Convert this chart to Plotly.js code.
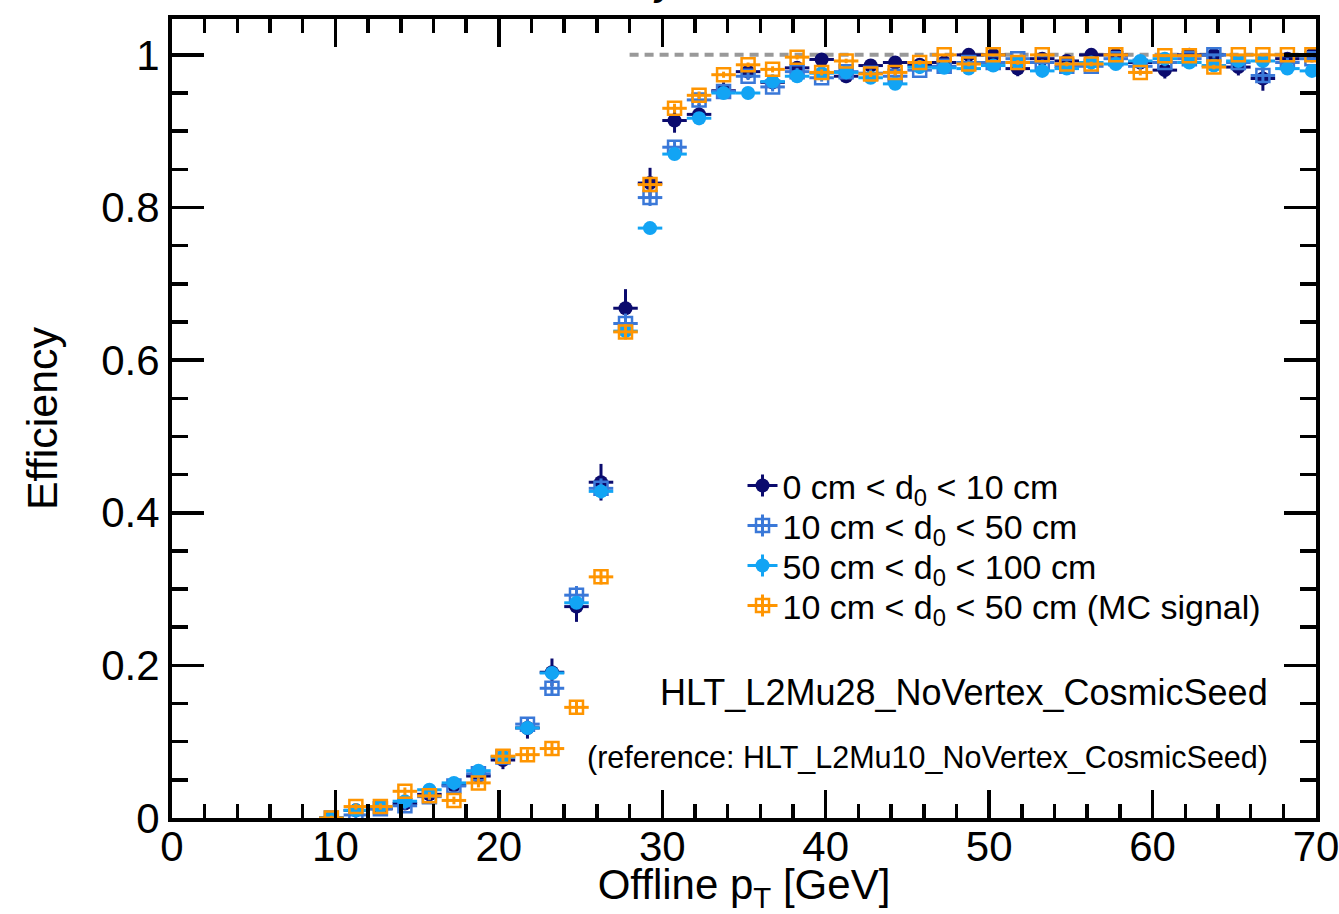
<!DOCTYPE html>
<html>
<head>
<meta charset="utf-8">
<script src="https://cdn.plot.ly/plotly-3.0.1.min.js"></script>
<style>
  html, body { margin: 0; padding: 0; background: #ffffff; }
  #plot { width: 1339px; height: 914px; }
</style>
</head>
<body>
<div id="plot"></div>
<script>
// Offline muon pT bin centres [GeV] (bin width 1.5 GeV)
const ptCenters = [9.75, 11.25, 12.75, 14.25, 15.75, 17.25, 18.75, 20.25, 21.75, 23.25,
  24.75, 26.25, 27.75, 29.25, 30.75, 32.25, 33.75, 35.25, 36.75, 38.25,
  39.75, 41.25, 42.75, 44.25, 45.75, 47.25, 48.75, 50.25, 51.75, 53.25,
  54.75, 56.25, 57.75, 59.25, 60.75, 62.25, 63.75, 65.25, 66.75, 68.25, 69.75];
const binHalfWidth = 0.75;

// Efficiency, 0 cm < d0 < 10 cm
const effD0_0_10 = [0.000, 0.010, 0.012, 0.019, 0.031, 0.043, 0.055, 0.076, 0.118, 0.191,
  0.277, 0.440, 0.668, 0.832, 0.914, 0.922, 0.953, 0.978, 0.964, 0.983,
  0.994, 0.972, 0.986, 0.990, 0.987, 0.990, 1.000, 1.000, 0.982, 0.995,
  0.992, 1.000, 1.000, 0.990, 0.980, 1.000, 1.000, 0.984, 0.969, 0.995, 1.000];
const errD0_0_10 = [0.004, 0.006, 0.006, 0.007, 0.008, 0.009, 0.010, 0.012, 0.014, 0.018,
  0.020, 0.024, 0.025, 0.020, 0.016, 0.014, 0.011, 0.009, 0.010, 0.008,
  0.007, 0.009, 0.008, 0.008, 0.008, 0.008, 0.006, 0.006, 0.010, 0.007,
  0.008, 0.006, 0.006, 0.009, 0.011, 0.007, 0.007, 0.011, 0.016, 0.008, 0.007];

// Efficiency, 10 cm < d0 < 50 cm
const effD0_10_50 = [0.000, 0.004, 0.012, 0.016, 0.028, 0.042, 0.058, 0.080, 0.123, 0.170,
  0.292, 0.432, 0.648, 0.813, 0.879, 0.941, 0.952, 0.972, 0.958, 0.978,
  0.970, 0.978, 0.976, 0.972, 0.980, 0.985, 0.990, 0.990, 0.995, 0.990,
  0.985, 0.985, 0.995, 0.985, 0.990, 0.995, 1.000, 0.990, 0.973, 0.990, 0.995];
const errD0_10_50 = [0.003, 0.004, 0.004, 0.005, 0.005, 0.006, 0.007, 0.008, 0.009, 0.010,
  0.012, 0.013, 0.013, 0.011, 0.009, 0.007, 0.006, 0.005, 0.006, 0.005,
  0.005, 0.005, 0.005, 0.005, 0.005, 0.005, 0.004, 0.004, 0.004, 0.004,
  0.005, 0.005, 0.004, 0.005, 0.005, 0.004, 0.004, 0.006, 0.009, 0.006, 0.005];

// Efficiency, 50 cm < d0 < 100 cm
const effD0_50_100 = [0.000, 0.010, 0.015, 0.022, 0.037, 0.046, 0.062, 0.080, 0.118, 0.190,
  0.282, 0.428, 0.638, 0.773, 0.870, 0.917, 0.950, 0.950, 0.965, 0.972,
  0.976, 0.977, 0.970, 0.962, 0.984, 0.983, 0.982, 0.986, 0.990, 0.979,
  0.982, 0.990, 0.988, 0.992, 0.995, 0.990, 0.986, 0.992, 0.992, 0.982, 0.979];
const errD0_50_100 = [0.002, 0.003, 0.003, 0.003, 0.004, 0.004, 0.005, 0.005, 0.006, 0.007,
  0.008, 0.009, 0.009, 0.008, 0.006, 0.005, 0.004, 0.004, 0.004, 0.004,
  0.004, 0.004, 0.004, 0.004, 0.003, 0.003, 0.003, 0.003, 0.003, 0.004,
  0.004, 0.003, 0.003, 0.003, 0.003, 0.003, 0.004, 0.003, 0.003, 0.004, 0.004];

// Efficiency, 10 cm < d0 < 50 cm, MC signal
const effMcSignal = [0.000, 0.015, 0.015, 0.035, 0.029, 0.023, 0.046, 0.081, 0.083, 0.091,
  0.145, 0.316, 0.637, 0.830, 0.930, 0.947, 0.974, 0.987, 0.981, 0.997,
  0.977, 0.992, 0.975, 0.977, 0.990, 1.000, 0.988, 1.000, 0.990, 1.000,
  0.988, 0.988, 1.000, 0.977, 0.999, 0.999, 0.984, 1.000, 1.000, 1.000, 1.000];
const errMcSignal = [0.003, 0.004, 0.004, 0.005, 0.005, 0.005, 0.006, 0.007, 0.007, 0.008,
  0.009, 0.010, 0.010, 0.008, 0.006, 0.005, 0.004, 0.003, 0.004, 0.003,
  0.004, 0.003, 0.004, 0.004, 0.003, 0.002, 0.003, 0.002, 0.003, 0.002,
  0.003, 0.003, 0.002, 0.004, 0.002, 0.002, 0.003, 0.002, 0.002, 0.002, 0.002];

const seriesNames = [
  '0 cm &lt; d<sub>0</sub> &lt; 10 cm',
  '10 cm &lt; d<sub>0</sub> &lt; 50 cm',
  '50 cm &lt; d<sub>0</sub> &lt; 100 cm',
  '10 cm &lt; d<sub>0</sub> &lt; 50 cm (MC signal)'
];
const seriesColors = ['#0b0b6e', '#3a78d8', '#12a4f4', '#ff9500'];
const triggerLabel = 'HLT_L2Mu28_NoVertex_CosmicSeed';
const referenceLabel = '(reference: HLT_L2Mu10_NoVertex_CosmicSeed)';
const headerLabel = '<b>CMS</b> <i>Preliminary</i>';
const plateauStart = 28;

const FONT = 'Liberation Sans, Arial, Helvetica, sans-serif';

// efficiency errors cannot push a point above 100 %
function upperErr(vals, errs) { return errs.map((e, i) => Math.min(e, 1 - vals[i])); }

function effTrace(name, vals, errs, color, symbol, filled) {
  return {
    type: 'scatter', mode: 'markers', name: name,
    x: ptCenters, y: vals,
    error_x: { type: 'constant', value: binHalfWidth, color: color, thickness: 3, width: 0 },
    error_y: { type: 'data', array: upperErr(vals, errs), arrayminus: errs,
               symmetric: false, color: color, thickness: 3, width: 0 },
    marker: filled
      ? { symbol: symbol, size: 14, color: color, line: { width: 0 } }
      : { symbol: symbol, size: 13, color: color, line: { width: 2.5, color: color } },
    cliponaxis: true
  };
}

const traces = [
  effTrace(seriesNames[0], effD0_0_10, errD0_0_10, seriesColors[0], 'circle', true),
  effTrace(seriesNames[1], effD0_10_50, errD0_10_50, seriesColors[1], 'square-open', false),
  effTrace(seriesNames[2], effD0_50_100, errD0_50_100, seriesColors[2], 'circle', true),
  effTrace(seriesNames[3], effMcSignal, errMcSignal, seriesColors[3], 'square-open', false)
];

const axisCommon = {
  showline: true, linewidth: 4, linecolor: '#000000', mirror: 'allticks',
  ticks: 'inside', tickcolor: '#000000', tickwidth: 3.5,
  showgrid: false, zeroline: false, fixedrange: true,
  ticklabeloverflow: 'allow',
  tickfont: { family: FONT, size: 42, color: '#000000' }
};

const layout = {
  width: 1339, height: 914,
  paper_bgcolor: '#ffffff', plot_bgcolor: '#ffffff',
  margin: { l: 172, r: 23, t: 19, b: 96, pad: 0 },
  showlegend: true,
  font: { family: FONT, color: '#000000' },
  xaxis: Object.assign({}, axisCommon, {
    range: [0, 70], tick0: 0, dtick: 10, ticklen: 28, ticklabelstandoff: -11,
    minor: { ticks: 'inside', dtick: 2, ticklen: 14, tickwidth: 3.5, tickcolor: '#000000', showgrid: false },
    title: { text: 'Offline p<sub>T</sub> [GeV]', font: { family: FONT, size: 42, color: '#000000' }, standoff: 2 }
  }),
  yaxis: Object.assign({}, axisCommon, {
    range: [0, 1.047], tick0: 0, dtick: 0.2, ticklen: 32,
    minor: { ticks: 'inside', dtick: 0.05, ticklen: 16, tickwidth: 3.5, tickcolor: '#000000', showgrid: false },
    title: { text: 'Efficiency', font: { family: FONT, size: 43, color: '#000000' }, standoff: 31 }
  }),
  legend: {
    x: 0.4987, y: 0.452, xanchor: 'left', yanchor: 'top',
    bgcolor: 'rgba(0,0,0,0)', borderwidth: 0,
    font: { family: FONT, size: 34, color: '#000000' },
    itemclick: false, itemdoubleclick: false
  },
  shapes: [{
    type: 'line', xref: 'x', yref: 'y', x0: plateauStart, x1: 70, y0: 1, y1: 1,
    line: { color: '#999999', width: 4, dash: '9px,6px' }, layer: 'below'
  }],
  annotations: [
    { xref: 'paper', yref: 'paper', x: 0.9598, y: 0.157, xanchor: 'right', yanchor: 'middle',
      text: triggerLabel, showarrow: false, font: { family: FONT, size: 36, color: '#000000' } },
    { xref: 'paper', yref: 'paper', x: 0.9598, y: 0.0757, xanchor: 'right', yanchor: 'middle',
      text: referenceLabel, showarrow: false, font: { family: FONT, size: 30.5, color: '#000000' } },
    { xref: 'paper', yref: 'paper', x: 0.1646, y: 1, xanchor: 'left', yanchor: 'bottom', yshift: 14,
      text: headerLabel, showarrow: false, font: { family: FONT, size: 42, color: '#000000' } }
  ]
};

// Legend rows are packed at a fixed 40 px pitch, and each key gets the
// horizontal/vertical error-bar cross that the data points carry.
const LEGEND_PITCH = 40;
function styleLegend(gd) {
  const items = gd.querySelectorAll('.legend .traces');
  let y0 = null;
  items.forEach((g, i) => {
    const m = /translate\(\s*([-\d.]+)[ ,]+([-\d.]+)\s*\)/.exec(g.getAttribute('transform') || '');
    if (!m) return;
    const x = parseFloat(m[1]);
    if (y0 === null) y0 = parseFloat(m[2]);
    g.setAttribute('transform', 'translate(' + x + ',' + (y0 + LEGEND_PITCH * i) + ')');
    const pts = g.querySelector('.legendpoints');
    if (!pts) return;
    const cross = document.createElementNS('http://www.w3.org/2000/svg', 'path');
    cross.setAttribute('d', 'M5,0H35M20,-11V11');
    cross.setAttribute('stroke', seriesColors[i]);
    cross.setAttribute('stroke-width', '3');
    cross.setAttribute('fill', 'none');
    pts.insertBefore(cross, pts.firstChild);
  });
}

Plotly.newPlot('plot', traces, layout, { staticPlot: true, displayModeBar: false })
  .then(styleLegend);
</script>
</body>
</html>
